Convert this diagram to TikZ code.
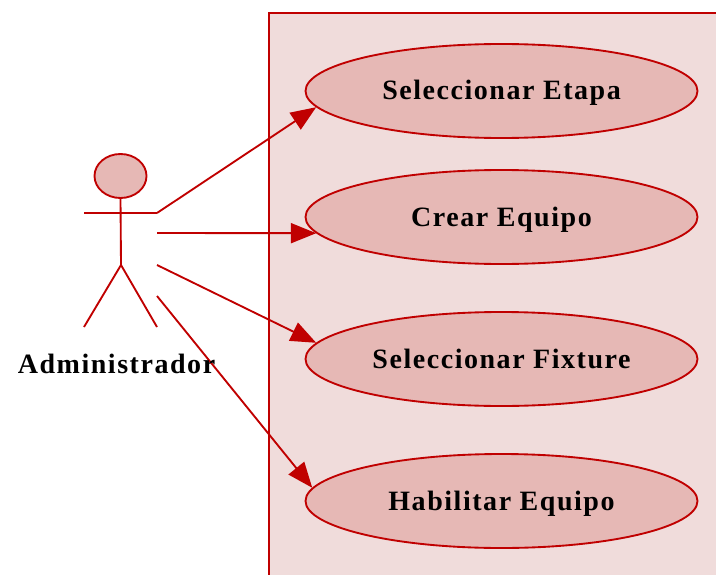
\documentclass[tikz,border=0pt]{standalone}
\usepackage{fontspec}
\setmainfont{Liberation Serif}[LetterSpace=5.5]
\usepackage{xcolor}
\usetikzlibrary{arrows.meta}
\usetikzlibrary{shapes.geometric}
\definecolor{umlline}{HTML}{C00000}
\definecolor{umlframe}{HTML}{F0DCDB}
\definecolor{umlfill}{HTML}{E6B8B5}
\tikzset{
  usecase/.style={ellipse, draw=umlline, fill=umlfill, line width=1.4pt, minimum width=294pt, minimum height=70.5pt, inner sep=0pt, text height=18pt, text depth=4.5pt, font=\fontsize{21}{24}\selectfont\bfseries, text=black},
  actorline/.style={draw=umlline, line width=1.4pt},
  assoc/.style={umlline, line width=1.4pt, -{Triangle[length=19pt, width=15pt]}}
}

\begin{document}
\begin{tikzpicture}[x=0.75pt, y=-0.75pt]
	\useasboundingbox (0, 0) rectangle (716, 574);
	\clip (0, 0) rectangle (716, 574);
	\draw[umlline, fill=umlframe, line width=1.4pt] (269, 13) rectangle (740, 600);

	\node[usecase] (etapa) at (501.5, 91) {Seleccionar Etapa};
	\node[usecase] (equipo) at (501.5, 217) {Crear Equipo};
	\node[usecase] (fixture) at (501.5, 359) {Seleccionar Fixture};
	\node[usecase] (habilitar) at (501.5, 501) {Habilitar Equipo};

	\node[ellipse, actorline, fill=umlfill, minimum width=39pt, minimum height=33pt, inner sep=0pt] (head) at (120.5, 176) {};
	\coordinate (hip) at (121, 265);
	\coordinate (handl) at (84, 213);
	\coordinate (handr) at (157, 213);
	\coordinate (footl) at (84, 327);
	\coordinate (footr) at (157, 327);
	\coordinate (from2) at (157, 233);
	\coordinate (from3) at (157, 265);
	\coordinate (from4) at (157, 296);
	\draw[actorline] (head.south) -- (hip);
	\draw[actorline] (handl) -- (handr);
	\draw[actorline] (footl) -- (hip) -- (footr);

	\draw[assoc] (handr) -- (etapa.185.3);
	\draw[assoc] (from2) -- (equipo.185);
	\draw[assoc] (from3) -- (fixture.175.7);
	\draw[assoc] (from4) -- (habilitar.176);

	\node[font=\fontsize{21}{24}\selectfont\bfseries, text=black] (admin) at (116.5, 364) {Administrador};
\end{tikzpicture}
\end{document}
